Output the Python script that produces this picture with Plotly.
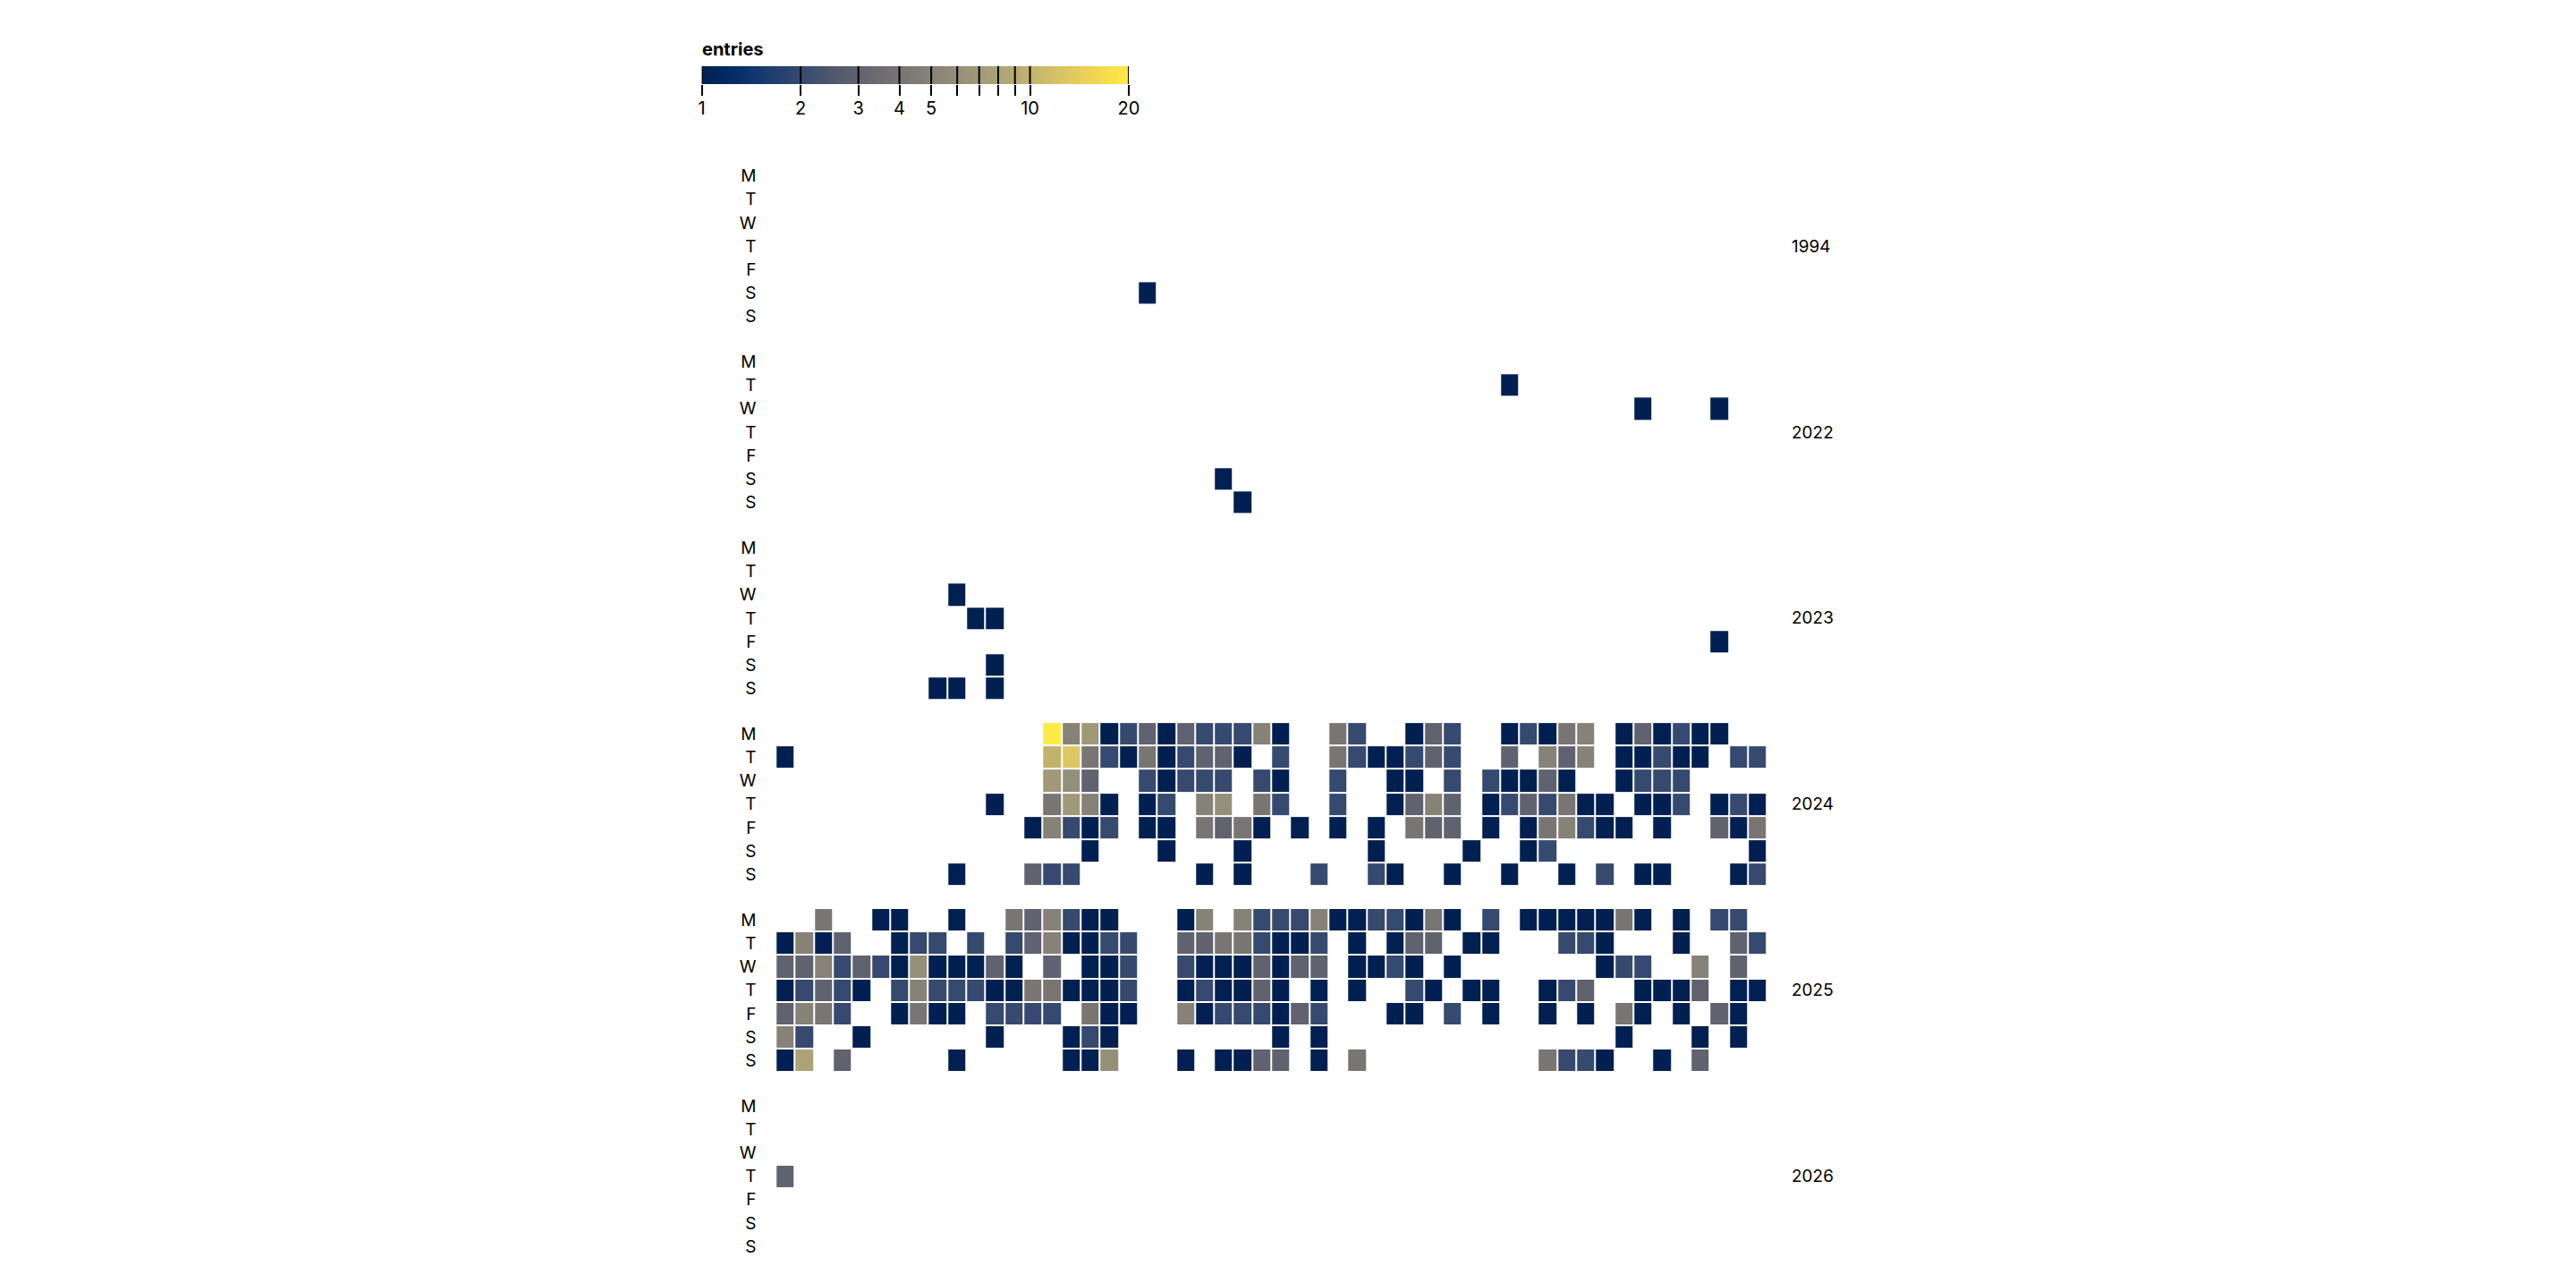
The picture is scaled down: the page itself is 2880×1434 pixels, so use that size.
import numpy as np
import plotly.graph_objects as go

# ---------------- data ----------------
DAY_LABELS = ["M", "T", "W", "T", "F", "S", "S"]
YEARS = [1994, 2022, 2023, 2024, 2025, 2026]
N_WEEKS = 52

# entries per weekday (Mon..Sun), as {week_of_year: entries}
Y1994 = [{}, {}, {}, {}, {}, {19: 1}, {}]
Y2022 = [{}, {38: 1}, {45: 1, 49: 1}, {}, {}, {23: 1}, {24: 1}]
Y2023 = [{}, {}, {9: 1}, {10: 1, 11: 1}, {49: 1}, {11: 1}, {8: 1, 9: 1, 11: 1}]
Y2024 = [
    {14: 20, 15: 5, 16: 7, 17: 1, 18: 2, 19: 3, 20: 1, 21: 3, 22: 2, 23: 2, 24: 2, 25: 5, 26: 1,
     29: 4, 30: 2, 33: 1, 34: 3, 35: 2, 38: 1, 39: 2, 40: 1, 41: 4, 42: 5, 44: 1, 45: 3, 46: 1,
     47: 2, 48: 1, 49: 1},
    {0: 1, 14: 10, 15: 13, 16: 4, 17: 2, 18: 1, 19: 4, 20: 1, 21: 2, 22: 3, 23: 3, 24: 1, 26: 2,
     29: 4, 30: 2, 31: 1, 32: 1, 33: 2, 34: 3, 35: 2, 38: 3, 40: 5, 41: 3, 42: 5, 44: 1, 45: 1,
     46: 2, 47: 1, 48: 1, 50: 2, 51: 2},
    {14: 7, 15: 6, 16: 3, 19: 2, 20: 1, 21: 2, 22: 2, 23: 2, 25: 2, 26: 1, 29: 2, 32: 1, 33: 1,
     35: 2, 37: 2, 38: 1, 39: 1, 40: 3, 41: 1, 44: 1, 45: 2, 46: 2, 47: 2},
    {11: 1, 14: 4, 15: 7, 16: 5, 17: 1, 19: 1, 20: 2, 22: 5, 23: 6, 25: 4, 26: 2, 29: 2, 32: 1,
     33: 3, 34: 5, 35: 3, 37: 1, 38: 2, 39: 3, 40: 2, 41: 4, 42: 1, 43: 1, 45: 1, 46: 1, 47: 2,
     49: 1, 50: 2, 51: 1},
    {13: 1, 14: 5, 15: 2, 16: 1, 17: 2, 19: 1, 20: 1, 22: 4, 23: 3, 24: 4, 25: 1, 27: 1, 29: 1,
     31: 1, 33: 4, 34: 3, 35: 3, 37: 1, 39: 1, 40: 4, 41: 5, 42: 2, 43: 1, 44: 1, 46: 1, 49: 3,
     50: 1, 51: 4},
    {16: 1, 20: 1, 24: 1, 31: 1, 36: 1, 39: 1, 40: 2, 51: 1},
    {9: 1, 13: 3, 14: 2, 15: 2, 22: 1, 24: 1, 28: 2, 31: 2, 32: 1, 35: 1, 38: 1, 41: 1, 43: 2,
     45: 1, 46: 1, 50: 1, 51: 2},
]
Y2025 = [
    {2: 4, 5: 1, 6: 1, 9: 1, 12: 4, 13: 3, 14: 5, 15: 2, 16: 1, 17: 1, 21: 1, 22: 5, 24: 5, 25: 2,
     26: 2, 27: 2, 28: 5, 29: 1, 30: 1, 31: 2, 32: 2, 33: 1, 34: 4, 35: 1, 37: 2, 39: 1, 40: 1,
     41: 1, 42: 1, 43: 1, 44: 4, 45: 1, 47: 1, 49: 2, 50: 2},
    {0: 1, 1: 5, 2: 1, 3: 3, 6: 1, 7: 2, 8: 2, 10: 2, 12: 2, 13: 3, 14: 5, 15: 1, 16: 1, 17: 2,
     18: 2, 21: 3, 22: 3, 23: 4, 24: 4, 25: 2, 26: 1, 27: 1, 28: 2, 30: 1, 32: 1, 33: 3, 34: 3,
     36: 1, 37: 1, 41: 2, 42: 2, 43: 1, 47: 1, 50: 3, 51: 2},
    {0: 3, 1: 3, 2: 5, 3: 2, 4: 3, 5: 2, 6: 1, 7: 6, 8: 1, 9: 1, 10: 1, 11: 3, 12: 1, 14: 3,
     16: 1, 17: 1, 18: 2, 21: 2, 22: 1, 23: 1, 24: 1, 25: 3, 26: 1, 27: 3, 28: 3, 30: 1, 31: 1,
     32: 2, 33: 1, 35: 1, 43: 1, 44: 2, 45: 2, 48: 5, 50: 3},
    {0: 1, 1: 2, 2: 3, 3: 2, 4: 1, 6: 2, 7: 5, 8: 2, 9: 2, 10: 2, 11: 1, 12: 1, 13: 4, 14: 4,
     15: 1, 16: 1, 17: 1, 18: 2, 21: 1, 22: 2, 23: 1, 24: 1, 25: 3, 26: 1, 28: 1, 30: 1, 33: 2,
     34: 1, 36: 1, 37: 1, 40: 1, 41: 2, 42: 3, 45: 1, 46: 1, 47: 1, 48: 3, 50: 1, 51: 1},
    {0: 3, 1: 5, 2: 4, 3: 2, 6: 1, 7: 4, 8: 1, 9: 1, 11: 2, 12: 2, 13: 2, 14: 2, 16: 4, 17: 1,
     18: 1, 21: 5, 22: 1, 23: 2, 24: 2, 25: 2, 26: 1, 27: 3, 28: 2, 32: 1, 33: 1, 35: 2, 37: 1,
     40: 1, 42: 1, 44: 4, 45: 1, 47: 1, 49: 3, 50: 1},
    {0: 5, 1: 2, 4: 1, 11: 1, 15: 1, 16: 2, 17: 1, 26: 1, 28: 1, 44: 1, 48: 1, 50: 1},
    {0: 1, 1: 8, 3: 3, 9: 1, 15: 1, 16: 1, 17: 6, 21: 1, 23: 1, 24: 1, 25: 3, 26: 3, 28: 1,
     30: 4, 40: 4, 41: 2, 42: 2, 43: 1, 46: 1, 48: 3},
]
Y2026 = [{}, {}, {}, {0: 3}, {}, {}, {}]
YEAR_DATA = [Y1994, Y2022, Y2023, Y2024, Y2025, Y2026]

LEGEND_TICKS = [1, 2, 3, 4, 5, 6, 7, 8, 9, 10, 20]
LEGEND_LABELS = ["1", "2", "3", "4", "5", "", "", "", "", "10", "20"]
CMIN, CMAX = 1, 20

# ---------------- helpers ----------------
PAGE_OFF = 8                      # default <body> margin of the html page
W, H = 2880 - 2 * PAGE_OFF, 1434 - 2 * PAGE_OFF
FONT = "Inter, Roboto, sans-serif"
AXIS_FS = 19


def cividis(t):
    t = max(0.0, min(1.0, t))
    r = -4.54 - t * (35.34 - t * (2381.73 - t * (6402.7 - t * (7024.72 - t * 2710.57))))
    g = 32.49 + t * (170.73 + t * (52.82 - t * (131.46 - t * (176.58 - t * 67.37))))
    b = 81.24 + t * (442.36 - t * (2482.43 - t * (6167.24 - t * (6614.94 - t * 2475.67))))
    c = [int(round(max(0, min(255, v)))) for v in (r, g, b)]
    return f"rgb({c[0]},{c[1]},{c[2]})"


def tlog(v):
    return np.log(v / CMIN) / np.log(CMAX / CMIN)


colorscale = [[i / 100, cividis(i / 100)] for i in range(101)]


def px_x(x):
    return (x - PAGE_OFF) / W


def px_y(y):
    return 1 - (y - PAGE_OFF) / H


GRID_L, GRID_R = 868.0, 1982.4
FACET_TOP0, FACET_H, FACET_STEP = 183.4, 183.4, 207.9

fig = go.Figure()
layout = dict(
    width=W, height=H,
    margin=dict(l=0, r=0, t=0, b=0),
    paper_bgcolor="white", plot_bgcolor="white",
    showlegend=False,
    font=dict(family=FONT, size=AXIS_FS, color="black"),
    coloraxis=dict(colorscale=colorscale, cmin=0, cmax=1, showscale=False),
    annotations=[],
)

for i, (year, data) in enumerate(zip(YEARS, YEAR_DATA)):
    k = i + 1
    z = [[None] * N_WEEKS for _ in range(7)]
    for d, row in enumerate(data):
        for wk, cnt in row.items():
            z[d][wk] = float(tlog(cnt))
    fig.add_trace(go.Heatmap(
        z=z, x=list(range(N_WEEKS)), y=list(range(7)),
        coloraxis="coloraxis", xgap=2, ygap=2,
        xaxis=f"x{k}", yaxis=f"y{k}", hoverinfo="skip",
    ))
    top = FACET_TOP0 + i * FACET_STEP
    bot = top + FACET_H
    layout[f"xaxis{k}"] = dict(
        domain=[px_x(GRID_L), px_x(GRID_R)], range=[-0.5, N_WEEKS - 0.5],
        visible=False, anchor=f"y{k}", fixedrange=True,
    )
    layout[f"yaxis{k}"] = dict(
        domain=[px_y(bot), px_y(top)], range=[6.5, -0.5],
        tickvals=list(range(7)), ticktext=DAY_LABELS,
        ticks="outside", ticklen=17, tickcolor="rgba(0,0,0,0)",
        showgrid=False, zeroline=False, showline=False,
        tickfont=dict(size=AXIS_FS, family=FONT, color="black"),
        anchor=f"x{k}", fixedrange=True,
    )
    layout["annotations"].append(dict(
        text=str(year), xref="paper", yref=f"y{k}", x=px_x(2008), y=3,
        xanchor="left", yanchor="middle", showarrow=False,
        font=dict(size=AXIS_FS, family=FONT, color="black"),
    ))

# ---------------- legend (colour ramp) ----------------
LK = len(YEARS) + 1
edges = np.linspace(0, 1, 257)
centers = (edges[:-1] + edges[1:]) / 2
fig.add_trace(go.Heatmap(
    z=[centers.tolist()], x=edges.tolist(), y=[0.5],
    coloraxis="coloraxis", xaxis=f"x{LK}", yaxis=f"y{LK}", hoverinfo="skip",
))
tick_pos = [float(tlog(v)) for v in LEGEND_TICKS]
lx, ly = [], []
for p in tick_pos:
    lx += [p, p, None]
    ly += [0, 1, None]
fig.add_trace(go.Scatter(
    x=lx, y=ly, mode="lines", line=dict(color="black", width=2),
    xaxis=f"x{LK}", yaxis=f"y{LK}", hoverinfo="skip", cliponaxis=False,
))
layout[f"xaxis{LK}"] = dict(
    domain=[px_x(785), px_x(1265)], range=[0, 1],
    tickvals=tick_pos, ticktext=LEGEND_LABELS,
    ticks="outside", ticklen=12, tickwidth=2, tickcolor="black",
    ticklabelstandoff=-3,
    showgrid=False, zeroline=False, showline=False,
    tickfont=dict(size=20, family=FONT, color="black"),
    anchor=f"y{LK}", fixedrange=True,
)
layout[f"yaxis{LK}"] = dict(
    domain=[px_y(94), px_y(74)], range=[0, 1], visible=False,
    anchor=f"x{LK}", fixedrange=True,
)
layout["annotations"].append(dict(
    text="<b>entries</b>", xref="paper", yref="paper", x=px_x(783), y=px_y(55),
    xanchor="left", yanchor="middle", showarrow=False,
    font=dict(size=20, family=FONT, color="black"),
))

fig.update_layout(**layout)
fig.write_html("out.html", config={"displayModeBar": False})
